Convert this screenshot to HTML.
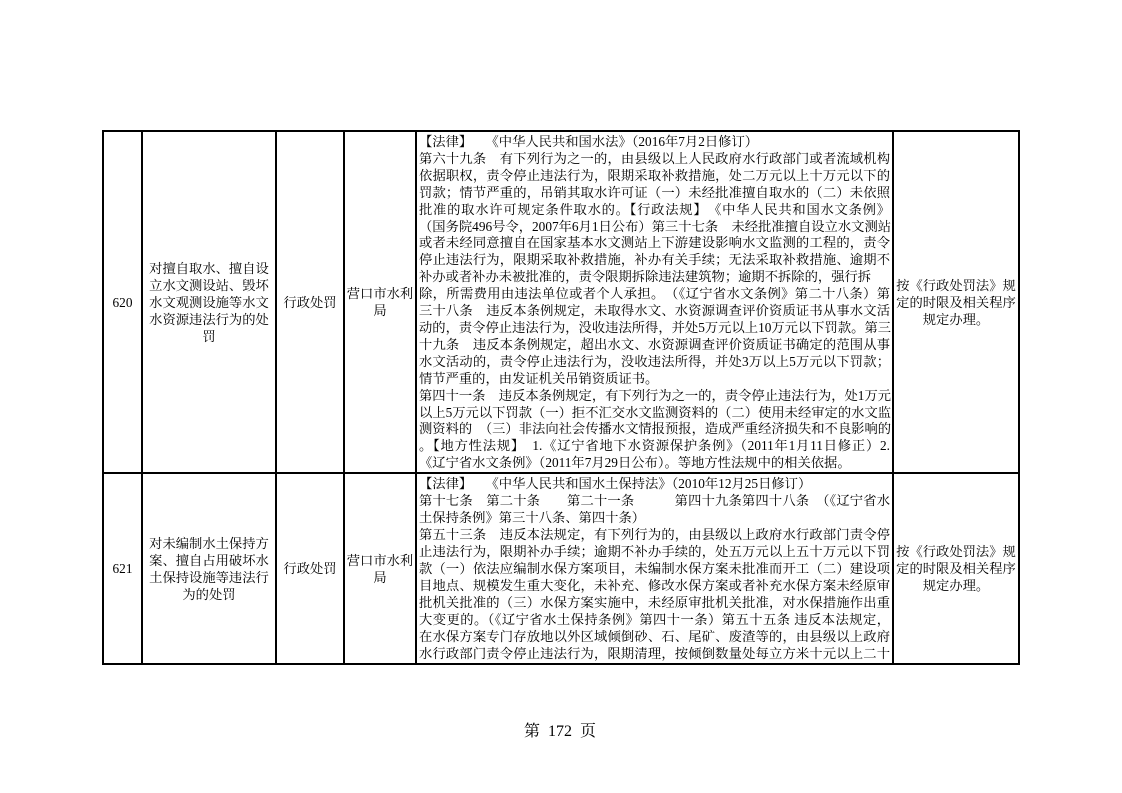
<!DOCTYPE html>
<html><head><meta charset="utf-8">
<style>
html,body{margin:0;padding:0;background:#fff;}
body{width:1122px;height:793px;position:relative;overflow:hidden;font-family:"Liberation Serif","Noto Serif CJK SC",serif;color:#000;}
.b{position:absolute;background:#000;}
.c{position:absolute;display:flex;align-items:center;justify-content:center;text-align:center;font-size:13.3px;line-height:17px;}
.t{position:absolute;font-size:13.3px;line-height:16.9px;white-space:nowrap;}
.j{text-align:justify;text-align-last:justify;}
</style></head><body>
<div class="b" style="left:102px;top:130px;width:918px;height:2px"></div>
<div class="b" style="left:102px;top:663px;width:918px;height:2px"></div>
<div class="b" style="left:102px;top:472px;width:918px;height:1.5px"></div>
<div class="b" style="left:102px;top:130px;width:2px;height:535px"></div>
<div class="b" style="left:1018px;top:130px;width:2px;height:535px"></div>
<div class="b" style="left:141px;top:130px;width:1.5px;height:535px"></div>
<div class="b" style="left:275px;top:130px;width:1.5px;height:535px"></div>
<div class="b" style="left:343px;top:130px;width:1.5px;height:535px"></div>
<div class="b" style="left:415px;top:130px;width:1.5px;height:535px"></div>
<div class="b" style="left:892px;top:130px;width:1.5px;height:535px"></div>

<div class="c" style="left:104px;top:132px;width:37px;height:340px">620</div>
<div class="c" style="left:143px;top:132px;width:132px;height:340px">对擅自取水、擅自设<br>立水文测设站、毁坏<br>水文观测设施等水文<br>水资源违法行为的处<br>罚</div>
<div class="c" style="left:277px;top:132px;width:66px;height:340px">行政处罚</div>
<div class="c" style="left:345px;top:132px;width:70px;height:340px">营口市水利<br>局</div>
<div class="c" style="left:894px;top:132px;width:124px;height:340px">按《行政处罚法》规<br>定的时限及相关程序<br>规定办理。</div>
<div class="t" style="left:419px;top:134px;width:471px">
<div>【法律】　　《中华人民共和国水法》（2016年7月2日修订）</div>
<div class="j">第六十九条　有下列行为之一的，由县级以上人民政府水行政部门或者流域机构</div>
<div class="j">依据职权，责令停止违法行为，限期采取补救措施，处二万元以上十万元以下的</div>
<div class="j">罚款；情节严重的，吊销其取水许可证（一）未经批准擅自取水的（二）未依照</div>
<div class="j">批准的取水许可规定条件取水的。【行政法规】　《中华人民共和国水文条例》</div>
<div class="j">（国务院496号令，2007年6月1日公布）第三十七条　未经批准擅自设立水文测站</div>
<div class="j">或者未经同意擅自在国家基本水文测站上下游建设影响水文监测的工程的，责令</div>
<div class="j">停止违法行为，限期采取补救措施，补办有关手续；无法采取补救措施、逾期不</div>
<div>补办或者补办未被批准的，责令限期拆除违法建筑物；逾期不拆除的，强行拆</div>
<div class="j">除，所需费用由违法单位或者个人承担。　（《辽宁省水文条例》第二十八条）第</div>
<div class="j">三十八条　违反本条例规定，未取得水文、水资源调查评价资质证书从事水文活</div>
<div class="j">动的，责令停止违法行为，没收违法所得，并处5万元以上10万元以下罚款。第三</div>
<div class="j">十九条　违反本条例规定，超出水文、水资源调查评价资质证书确定的范围从事</div>
<div class="j">水文活动的，责令停止违法行为，没收违法所得，并处3万以上5万元以下罚款；</div>
<div>情节严重的，由发证机关吊销资质证书。</div>
<div class="j">第四十一条　违反本条例规定，有下列行为之一的，责令停止违法行为，处1万元</div>
<div class="j">以上5万元以下罚款（一）拒不汇交水文监测资料的（二）使用未经审定的水文监</div>
<div class="j">测资料的　（三）非法向社会传播水文情报预报，造成严重经济损失和不良影响的</div>
<div class="j">。【地方性法规】　1.《辽宁省地下水资源保护条例》（2011年1月11日修正）2.</div>
<div>《辽宁省水文条例》（2011年7月29日公布）。等地方性法规中的相关依据。</div>
</div>

<div class="c" style="left:104px;top:474px;width:37px;height:189px">621</div>
<div class="c" style="left:143px;top:474px;width:132px;height:189px">对未编制水土保持方<br>案、擅自占用破坏水<br>土保持设施等违法行<br>为的处罚</div>
<div class="c" style="left:277px;top:474px;width:66px;height:189px">行政处罚</div>
<div class="c" style="left:345px;top:474px;width:70px;height:189px">营口市水利<br>局</div>
<div class="c" style="left:894px;top:474px;width:124px;height:189px">按《行政处罚法》规<br>定的时限及相关程序<br>规定办理。</div>
<div class="t" style="left:419px;top:475px;width:471px;line-height:17px">
<div>【法律】　　《中华人民共和国水土保持法》（2010年12月25日修订）</div>
<div class="j">第十七条　第二十条　　第二十一条　　　第四十九条第四十八条　（《辽宁省水</div>
<div>土保持条例》第三十八条、第四十条）</div>
<div class="j">第五十三条　违反本法规定，有下列行为的，由县级以上政府水行政部门责令停</div>
<div class="j">止违法行为，限期补办手续；逾期不补办手续的，处五万元以上五十万元以下罚</div>
<div class="j">款（一）依法应编制水保方案项目，未编制水保方案未批准而开工（二）建设项</div>
<div class="j">目地点、规模发生重大变化，未补充、修改水保方案或者补充水保方案未经原审</div>
<div class="j">批机关批准的（三）水保方案实施中，未经原审批机关批准，对水保措施作出重</div>
<div class="j">大变更的。（《辽宁省水土保持条例》第四十一条）第五十五条 违反本法规定，</div>
<div class="j">在水保方案专门存放地以外区域倾倒砂、石、尾矿、废渣等的，由县级以上政府</div>
<div class="j">水行政部门责令停止违法行为，限期清理，按倾倒数量处每立方米十元以上二十</div>
</div>

<div style="position:absolute;left:460px;top:722px;width:200px;text-align:center;font-size:16px;line-height:20px;white-space:pre;">第  172  页</div>
</body></html>
